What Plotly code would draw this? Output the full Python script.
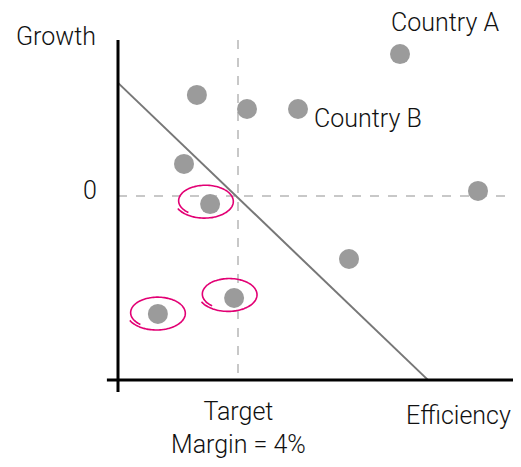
import numpy as np
import plotly.graph_objects as go

# Efficiency (margin %) vs growth, one dot per country
efficiency = [2.63, 4.3, 6.0, 2.2, 3.07, 9.4, 12.0, 7.7, 3.87, 1.33]
growth = [3.37, 2.9, 2.9, 1.07, -0.27, 4.73, 0.17, -2.1, -3.4, -3.93]

target_margin = 4
# target line: growth needed at a given efficiency
target_line_x = [0, 10.33]
target_line_y = [3.77, -6.13]

# countries flagged with a hand-drawn ring (index into the lists above)
flagged = [4, 8, 9]
ring_offset = {4: (-0.17, 0.1), 8: (-0.18, 0.12), 9: (-0.03, 0.03)}

GREY = "#9b9b9b"
MAGENTA = "#e20074"
FONT = dict(family="Roboto", size=25, color="#111111", weight=300)

# page has an 8px body margin: page px = 118 + 30*x, py = 196 - 30*y
x_range = [-110 / 30, (521 - 110) / 30]
y_range = [(188 - 467) / 30, 188 / 30]
x_end = 13.17
y_top = 5.2
y_floor = -6.13

fig = go.Figure()

# dashed target cross
fig.add_trace(go.Scatter(x=[target_margin, target_margin], y=[y_top, y_floor], mode="lines",
                         line=dict(color="#c8c8c8", width=2, dash="dash"), hoverinfo="skip"))
fig.add_trace(go.Scatter(x=[0, 12.97], y=[0, 0], mode="lines",
                         line=dict(color="#c8c8c8", width=2, dash="dash"), hoverinfo="skip"))

# target line
fig.add_trace(go.Scatter(x=target_line_x, y=target_line_y, mode="lines",
                         line=dict(color="#777777", width=2), hoverinfo="skip"))

# axes
fig.add_trace(go.Scatter(x=[0, 0], y=[y_top, -6.53], mode="lines",
                         line=dict(color="black", width=3), hoverinfo="skip"))
fig.add_trace(go.Scatter(x=[-0.37, x_end], y=[y_floor, y_floor], mode="lines",
                         line=dict(color="black", width=3), hoverinfo="skip"))

# countries
fig.add_trace(go.Scatter(x=efficiency, y=growth, mode="markers",
                         marker=dict(size=20, color=GREY), hoverinfo="x+y"))

# hand-drawn rings around flagged countries
for i in flagged:
    dx, dy = ring_offset[i]
    cx, cy = efficiency[i] + dx, growth[i] + dy
    t = np.linspace(np.radians(205), np.radians(205 + 385), 120)
    shrink = np.linspace(1.0, 0.86, t.size)
    rx, ry = 1.0, 0.58
    fig.add_trace(go.Scatter(x=cx + rx * shrink * np.cos(t), y=cy + ry * shrink * np.sin(t),
                             mode="lines", line=dict(color=MAGENTA, width=1.6, shape="spline"),
                             hoverinfo="skip"))

annotations = [
    dict(x=-2.07, y=5.33, text="Growth", xanchor="center", yanchor="middle"),
    dict(x=-0.63, y=0.17, text="0", xanchor="right", yanchor="middle"),
    dict(x=efficiency[5] + 1.5, y=growth[5] + 1.07, text="Country A", xanchor="center", yanchor="middle"),
    dict(x=efficiency[2] + 0.47, y=growth[2] - 0.33, text="Country B", xanchor="left", yanchor="middle"),
    dict(x=target_margin, y=-7.73, text=f"Target<br>Margin = {target_margin}%", xanchor="center", yanchor="middle"),
    dict(x=x_end, y=-7.3, text="Efficiency", xanchor="right", yanchor="middle"),
]
for a in annotations:
    a.update(xref="x", yref="y", showarrow=False, font=FONT)

fig.update_layout(
    width=521, height=467,
    margin=dict(l=0, r=0, t=0, b=0),
    showlegend=False,
    plot_bgcolor="white", paper_bgcolor="white",
    xaxis=dict(range=x_range, visible=False, fixedrange=True),
    yaxis=dict(range=y_range, visible=False, fixedrange=True),
    annotations=annotations,
)

fig.write_html("out.html")
